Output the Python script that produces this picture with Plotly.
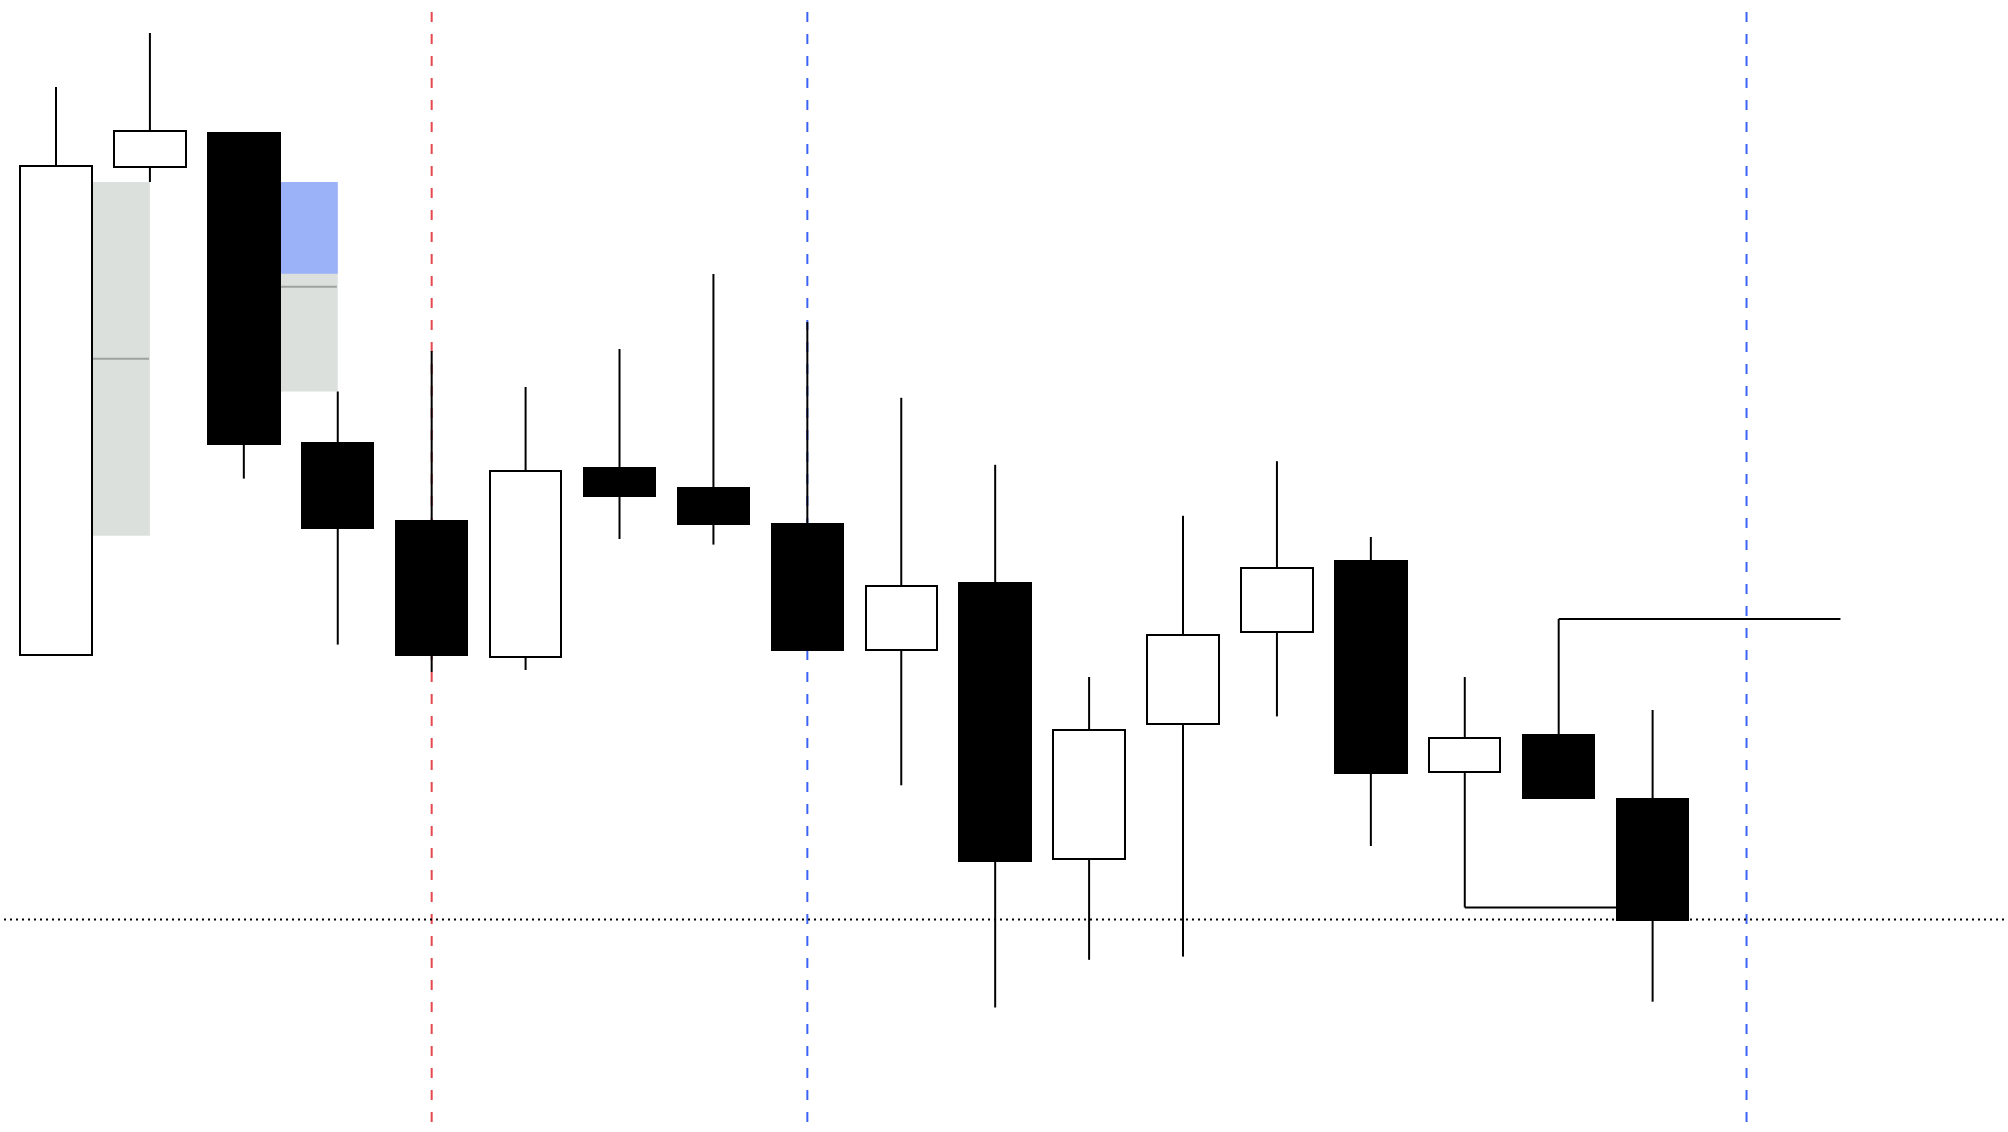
import plotly.graph_objects as go

# ---- data ----
idx = list(range(18))
opens  = [54.50, 103.30, 106.70, 75.70, 67.90, 54.30, 73.20, 71.20, 67.64, 55.01, 61.67, 34.08, 47.62, 56.85, 63.88, 42.85, 46.50, 40.10]
highs  = [111.30, 116.70, 106.70, 80.85, 84.90, 81.30, 85.10, 92.60, 87.80, 80.22, 73.52, 52.30, 68.42, 73.88, 66.30, 52.30, 58.10, 49.00]
lows   = [54.50, 101.80, 72.14, 55.54, 52.80, 53.00, 66.10, 65.54, 54.97, 41.47, 19.25, 24.02, 24.34, 48.36, 35.40, 29.26, 40.10, 19.83]
closes = [103.44, 106.90, 75.62, 67.23, 54.50, 72.95, 70.40, 67.63, 54.97, 61.44, 33.90, 46.98, 56.53, 63.23, 42.75, 46.20, 40.23, 28.05]

# zones (gap boxes): start candle (from its body edge) -> end candle (centre)
zone_start = [0, 2]
zone_end = [1, 3]
zone_top = [101.80, 101.80]
zone_bottom = [66.43, 80.85]
# blue overlay part of zone 2
blue_zone = 1
blue_top = 101.80
blue_bottom = 92.63

# markers
red_marks = [4]
blue_marks = [8, 18]

# swing levels
low_level_from, low_level_to = 15, 17
high_level_from, high_level_to = 16, 19

BODY_W = 0.76
X_RANGE = [-0.5962, 20.784]
Y_RANGE = [6.8, 120.0]

fig = go.Figure()

shapes = []
# zones
for k in range(len(zone_start)):
    x0 = zone_start[k] + BODY_W / 2
    x1 = zone_end[k]
    shapes.append(dict(type="rect", xref="x", yref="y", x0=x0, x1=x1,
                       y0=zone_bottom[k], y1=zone_top[k],
                       fillcolor="#DCE0DD", line=dict(width=0), layer="below"))
    if k == blue_zone:
        shapes.append(dict(type="rect", xref="x", yref="y", x0=x0, x1=x1,
                           y0=blue_bottom, y1=blue_top,
                           fillcolor="#9BB1F8", line=dict(width=0), layer="below"))
    mid = (zone_top[k] + zone_bottom[k]) / 2
    shapes.append(dict(type="line", xref="x", yref="y", x0=x0, x1=x1 - 0.01,
                       y0=mid, y1=mid, line=dict(color="#9EA29F", width=2), layer="below"))

# vertical dashed markers
for m in red_marks:
    shapes.append(dict(type="line", xref="x", yref="paper", x0=m, x1=m, y0=0.9894, y1=0.0088,
                       line=dict(color="#E5484D", width=2, dash="10px,12px"), layer="below"))
for m in blue_marks:
    shapes.append(dict(type="line", xref="x", yref="paper", x0=m, x1=m, y0=0.9894, y1=0.0088,
                       line=dict(color="#3D63F5", width=2, dash="10px,12px"), layer="below"))

# current price dotted line
shapes.append(dict(type="line", xref="paper", yref="y", x0=0.002, x1=1, y0=closes[-1], y1=closes[-1],
                   line=dict(color="black", width=2, dash="2px,4px"), layer="below"))

# bodies (bars are drawn beneath scatter traces)
base = [min(o, c) for o, c in zip(opens, closes)]
height = [abs(c - o) for o, c in zip(opens, closes)]
colors = ["white" if c >= o else "black" for o, c in zip(opens, closes)]
fig.add_trace(go.Bar(x=idx, y=height, base=base, width=BODY_W,
                     marker=dict(color=colors, line=dict(color="black", width=2)),
                     showlegend=False, hoverinfo="skip"))

# swing level lines
fig.add_trace(go.Scatter(
    x=[low_level_from, low_level_to - BODY_W / 2, None, high_level_from, high_level_to],
    y=[lows[low_level_from], lows[low_level_from], None, highs[high_level_from], highs[high_level_from]],
    mode="lines", line=dict(color="black", width=2), hoverinfo="skip", showlegend=False))

# wicks: upper and lower segments outside the body
wx, wy = [], []
for i in idx:
    top = max(opens[i], closes[i])
    bot = min(opens[i], closes[i])
    if highs[i] > top:
        wx += [i, i, None]
        wy += [top, highs[i], None]
    if lows[i] < bot:
        wx += [i, i, None]
        wy += [lows[i], bot, None]
fig.add_trace(go.Scatter(x=wx, y=wy, mode="lines", line=dict(color="black", width=2),
                         hoverinfo="skip", showlegend=False))

fig.update_layout(
    width=2008, height=1132,
    margin=dict(l=0, r=0, t=0, b=0),
    paper_bgcolor="white", plot_bgcolor="white",
    shapes=shapes,
    showlegend=False,
    xaxis=dict(range=X_RANGE, visible=False, showgrid=False, zeroline=False, fixedrange=True),
    yaxis=dict(range=Y_RANGE, visible=False, showgrid=False, zeroline=False, fixedrange=True),
    bargap=0,
)

fig.write_html("out.html", config={"displayModeBar": False},
               post_script="document.body.style.margin='0';document.body.style.overflow='hidden';")
